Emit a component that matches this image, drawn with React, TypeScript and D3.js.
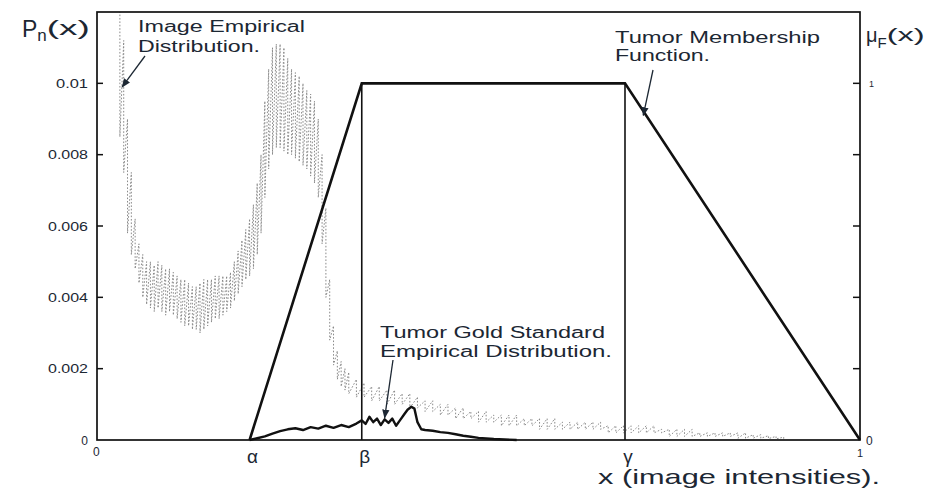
import React from "react";
import * as d3 from "d3";

// ---------- data ----------
const alpha = 0.2;
const beta = 0.347;
const gamma = 0.692;

const memX = [alpha, beta, gamma, 1.0];
const memMu = [0, 1, 1, 0];

const imageX = [
  0.030, 0.035, 0.040, 0.045, 0.050, 0.055, 0.060, 0.065, 0.070, 0.075,
  0.080, 0.085, 0.090, 0.095, 0.100, 0.105, 0.110, 0.115, 0.120, 0.125,
  0.130, 0.135, 0.140, 0.145, 0.150, 0.155, 0.160, 0.165, 0.170, 0.175,
  0.180, 0.185, 0.190, 0.195, 0.200, 0.205, 0.210, 0.215, 0.220, 0.225,
  0.230, 0.235, 0.240, 0.245, 0.250, 0.255, 0.260, 0.265, 0.270, 0.275,
  0.280, 0.285, 0.290, 0.295, 0.300, 0.305, 0.310, 0.315, 0.320, 0.325,
  0.330,
  0.34, 0.35, 0.36, 0.37, 0.38, 0.39, 0.40, 0.41, 0.42, 0.43,
  0.44, 0.45, 0.46, 0.47, 0.48, 0.49, 0.50, 0.51, 0.52, 0.53,
  0.54, 0.55, 0.56, 0.57, 0.58, 0.59, 0.60, 0.61, 0.62, 0.63,
  0.64, 0.65, 0.66, 0.67, 0.68, 0.69, 0.70, 0.71, 0.72, 0.73,
  0.74, 0.75, 0.76, 0.77, 0.78, 0.79, 0.80, 0.81, 0.82, 0.83,
  0.84, 0.85, 0.86, 0.87, 0.88, 0.89, 0.90,
];
const imageHigh = [
  0.0125, 0.0112, 0.0090, 0.0075, 0.0062, 0.0055, 0.0052, 0.0050, 0.0050, 0.0049,
  0.0050, 0.0049, 0.0048, 0.0048, 0.0047, 0.0046, 0.0045, 0.0045, 0.0044, 0.0043,
  0.0043, 0.0044, 0.0045, 0.0045, 0.0045, 0.0046, 0.0046, 0.0046, 0.0046, 0.0047,
  0.0050, 0.0053, 0.0056, 0.0059, 0.0062, 0.0066, 0.0072, 0.0080, 0.0095, 0.0104,
  0.0110, 0.0111, 0.0111, 0.0110, 0.0107, 0.0104, 0.0103, 0.0102, 0.0100, 0.0098,
  0.0097, 0.0095, 0.0090, 0.0080, 0.0065, 0.0045, 0.0032, 0.0025, 0.0022, 0.0020,
  0.0019,
  0.0017, 0.0016, 0.0015, 0.0015, 0.0014, 0.0014, 0.0013, 0.0013, 0.0012, 0.0011,
  0.0011, 0.0010, 0.0010, 0.0009, 0.0009, 0.0008, 0.0008, 0.0008, 0.0007, 0.0007,
  0.0007, 0.0007, 0.0006, 0.0006, 0.0006, 0.0006, 0.0006, 0.0005, 0.0005, 0.0005,
  0.0005, 0.0005, 0.0005, 0.0004, 0.0004, 0.0004, 0.0004, 0.0004, 0.0004, 0.0004,
  0.0003, 0.0003, 0.0003, 0.0003, 0.0003, 0.0002, 0.0002, 0.0002, 0.0002, 0.0002,
  0.0002, 0.0002, 0.00015, 0.00015, 0.00012, 0.0001, 0.00008,
];
const imageLow = [
  0.0085, 0.0075, 0.0058, 0.0052, 0.0048, 0.0044, 0.0040, 0.0038, 0.0037, 0.0036,
  0.0037, 0.0036, 0.0035, 0.0036, 0.0035, 0.0034, 0.0033, 0.0032, 0.0032, 0.0031,
  0.0031, 0.0030, 0.0031, 0.0032, 0.0033, 0.0034, 0.0034, 0.0035, 0.0036, 0.0037,
  0.0039, 0.0041, 0.0043, 0.0045, 0.0046, 0.0048, 0.0052, 0.0058, 0.0068, 0.0076,
  0.0080, 0.0082, 0.0082, 0.0081, 0.0080, 0.0080, 0.0079, 0.0078, 0.0077, 0.0076,
  0.0074, 0.0072, 0.0068, 0.0055, 0.0040, 0.0028, 0.0021, 0.0017, 0.0015, 0.0014,
  0.0013,
  0.0012, 0.0012, 0.0011, 0.0011, 0.0010, 0.0010, 0.0010, 0.0009, 0.0009, 0.0008,
  0.0008, 0.0007, 0.0007, 0.0006, 0.0006, 0.0006, 0.0005, 0.0005, 0.0005, 0.0004,
  0.0004, 0.0004, 0.0004, 0.0004, 0.0003, 0.0003, 0.0003, 0.0003, 0.0003, 0.0003,
  0.0003, 0.0003, 0.0003, 0.0002, 0.0002, 0.0002, 0.0002, 0.0002, 0.0002, 0.0002,
  0.0002, 0.0001, 0.0001, 0.0001, 0.0001, 0.0001, 0.0001, 0.0001, 0.0001, 0.0001,
  0.00005, 0.00005, 0.00005, 0.00005, 0.00004, 0.00003, 0.00002,
];

const goldX = [
  0.200, 0.210, 0.220, 0.230, 0.240, 0.250, 0.260, 0.270, 0.280, 0.290,
  0.300, 0.310, 0.320, 0.330, 0.340, 0.347, 0.352, 0.357, 0.362, 0.367,
  0.372, 0.377, 0.382, 0.387, 0.392, 0.397, 0.402, 0.407, 0.412, 0.416,
  0.420, 0.425, 0.430, 0.440, 0.450, 0.460, 0.470, 0.480, 0.490, 0.500,
  0.520, 0.550,
];
const goldP = [
  0, 0.00005, 0.0001, 0.00018, 0.00025, 0.0003, 0.00033, 0.00028, 0.00036, 0.00032,
  0.0004, 0.00034, 0.00042, 0.00036, 0.00046, 0.00055, 0.00045, 0.00065, 0.0005, 0.0006,
  0.00042, 0.00058, 0.00048, 0.0006, 0.0004, 0.00055, 0.0007, 0.00085, 0.00093, 0.00088,
  0.0005, 0.0003, 0.00028, 0.00026, 0.00022, 0.0002, 0.00016, 0.00012, 0.00009, 0.00006,
  0.00003, 0,
];

const leftTicks = [0.002, 0.004, 0.006, 0.008, 0.01];
const leftTickLabels = ["0.002", "0.004", "0.006", "0.008", "0.01"];
const rightTicks = [0.2, 0.4, 0.6, 0.8, 1.0];
const xLabelVals = [alpha, beta, gamma];
const xLabelText = ["α", "β", "γ"];

// ---------- layout ----------
const W = 943;
const H = 490;
const L = 97, R = 860, T = 12, B = 440;
const INK = "#1c2733";
const FONT = "'Liberation Sans', Arial, sans-serif";

export default function App() {
  const x = d3.scaleLinear().domain([0, 1]).range([L, R]);
  const yP = d3.scaleLinear().domain([0, 0.012]).range([B, T]);
  const yMu = d3.scaleLinear().domain([0, 1.2]).range([B, T]);

  const zig: [number, number][] = [];
  const n = Math.min(imageX.length, imageHigh.length, imageLow.length);
  for (let i = 0; i < n; i++) {
    zig.push([imageX[i], imageHigh[i]]);
    zig.push([imageX[i], imageLow[i]]);
  }
  const lineP = d3.line<[number, number]>().x((d) => x(d[0])).y((d) => yP(d[1]));
  const lineMu = d3.line<[number, number]>().x((d) => x(d[0])).y((d) => yMu(d[1]));

  const gold: [number, number][] = goldX.map((v, i) => [v, goldP[i]]);
  const mem: [number, number][] = memX.map((v, i) => [v, memMu[i]]);

  const txt = (s: string, px: number, py: number, size: number, len?: number, anchor = "start", extra: any = {}) => (
    <text
      x={px}
      y={py}
      fontSize={size}
      fontFamily={FONT}
      fill={INK}
      textAnchor={anchor}
      {...(len ? { textLength: len, lengthAdjust: "spacingAndGlyphs" } : {})}
      {...extra}
    >
      {s}
    </text>
  );

  // annotation arrow tips (data space)
  const imgTip = [x(0.033), yP(0.0099)];
  const goldTip = [x(0.377), yP(0.00062)];
  const memTip = [x(0.716), yMu(0.91)];

  return (
    <svg width={W} height={H} style={{ position: "absolute", left: 0, top: 0, background: "#fff" }}>
      <defs>
        <clipPath id="plot">
          <rect x={L} y={T} width={R - L} height={B - T} />
        </clipPath>
        <marker id="arr" viewBox="0 0 10 10" refX="9" refY="5" markerWidth="7" markerHeight="7" orient="auto">
          <path d="M0,1 L10,5 L0,9 z" fill={INK} />
        </marker>
      </defs>

      {/* image empirical distribution */}
      <path
        d={lineP(zig) || ""}
        fill="none"
        stroke="#8a8a8a"
        strokeWidth={1}
        strokeDasharray="1.6 1.8"
        clipPath="url(#plot)"
      />

      {/* vertical lines at beta & gamma */}
      <line x1={x(beta)} x2={x(beta)} y1={yMu(0)} y2={yMu(1)} stroke="#111" strokeWidth={1.6} />
      <line x1={x(gamma)} x2={x(gamma)} y1={yMu(0)} y2={yMu(1)} stroke="#111" strokeWidth={1.6} />

      {/* gold standard */}
      <path d={lineP(gold) || ""} fill="none" stroke="#111" strokeWidth={2.4} strokeLinejoin="round" />

      {/* membership function */}
      <path d={lineMu(mem) || ""} fill="none" stroke="#111" strokeWidth={2.6} strokeLinejoin="miter" />

      {/* frame */}
      <rect x={L} y={T} width={R - L} height={B - T} fill="none" stroke="#111" strokeWidth={1.7} />

      {/* ticks */}
      {leftTicks.map((t) => (
        <line key={"lt" + t} x1={L} x2={L + 6} y1={yP(t)} y2={yP(t)} stroke="#111" strokeWidth={1.5} />
      ))}
      {rightTicks.map((t) => (
        <line key={"rt" + t} x1={R - 7} x2={R} y1={yMu(t)} y2={yMu(t)} stroke="#111" strokeWidth={1.5} />
      ))}

      {/* left tick labels */}
      {leftTicks.map((t, i) =>
        txt(leftTickLabels[i], 88, yP(t) + 4.5, 12, leftTickLabels[i].length * 8, "end", { key: "ll" + t })
      )}
      {txt("0", 88, B + 5, 12, undefined, "end")}
      {txt("0", 93, B + 16, 12)}

      {/* right tick labels */}
      {txt("1", 869, yMu(1) + 4, 9)}
      {txt("0", 866, B + 5, 12)}

      {/* x labels */}
      {xLabelVals.map((v, i) => txt(xLabelText[i], x(v) + 3, 463, 19, undefined, "middle", { key: "xl" + i }))}
      {txt("1", x(1), 457, 11, undefined, "middle")}

      {/* axis titles */}
      <text x={22} y={37} fontFamily={FONT} fill={INK}>
        <tspan fontSize={23}>P</tspan>
        <tspan fontSize={17} dy={4}>n</tspan>
        <tspan fontSize={20} dy={-6} textLength={43} lengthAdjust="spacingAndGlyphs">(x)</tspan>
      </text>
      <text x={866} y={42} fontFamily={FONT} fill={INK}>
        <tspan fontSize={20}>μ</tspan>
        <tspan fontSize={15} dy={6}>F</tspan>
        <tspan fontSize={19} dy={-7} textLength={38} lengthAdjust="spacingAndGlyphs">(x)</tspan>
      </text>
      {txt("x (image intensities).", 598, 484, 21, 282)}

      {/* annotations */}
      {txt("Image Empirical", 138, 32, 16, 167)}
      {txt("Distribution.", 138, 52, 16, 122)}
      {txt("Tumor Membership", 615, 43, 16, 205)}
      {txt("Function.", 615, 61, 16, 95)}
      {txt("Tumor Gold Standard", 380, 338, 16, 225)}
      {txt("Empirical Distribution.", 380, 357, 16, 232)}

      <line x1={145} y1={56} x2={imgTip[0]} y2={imgTip[1]} stroke={INK} strokeWidth={1.3} markerEnd="url(#arr)" />
      <line x1={393} y1={360} x2={goldTip[0]} y2={goldTip[1]} stroke={INK} strokeWidth={1.3} markerEnd="url(#arr)" />
      <line x1={653} y1={70} x2={memTip[0]} y2={memTip[1]} stroke={INK} strokeWidth={1.3} markerEnd="url(#arr)" />
    </svg>
  );
}
